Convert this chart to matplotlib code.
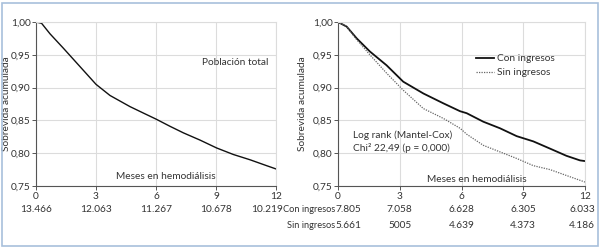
"""
Kaplan-Meier style survival curves: total population and by income group.
"""

import matplotlib.pyplot as plt
from matplotlib.patches import Rectangle
from matplotlib.transforms import blended_transform_factory

plt.rcParams["font.family"] = ["Lato", "DejaVu Sans"]
plt.rcParams["font.size"] = 7.3

TEXT = "#333333"
GRID = "#dcdcdc"
SPINE = "#555555"

# total population
months_total = [0, 0.28, 0.7, 1.37, 2.2, 3.0, 3.7, 4.7, 5.45, 6.0, 6.7, 7.37, 8.2, 9.03, 9.87, 10.7, 11.53, 12]
surv_total = [1.0, 0.998, 0.982, 0.960, 0.932, 0.905, 0.888, 0.871, 0.860, 0.852, 0.841, 0.831, 0.820, 0.808, 0.798,
              0.790, 0.781, 0.776]
at_risk_total = ["13.466", "12.063", "11.267", "10.678", "10.219"]

# by income
months_con = [0, 0.42, 0.91, 1.55, 2.36, 3.17, 4.15, 5.12, 5.93, 6.25, 7.06, 7.87, 8.68, 9.49, 10.3, 11.1, 11.76, 12]
surv_con = [1.0, 0.993, 0.975, 0.955, 0.934, 0.909, 0.891, 0.876, 0.864, 0.861, 0.848, 0.838, 0.826, 0.818, 0.807,
            0.796, 0.789, 0.788]
months_sin = [0, 0.42, 0.91, 1.55, 2.36, 3.17, 4.15, 5.12, 5.93, 6.25, 7.06, 7.87, 8.68, 9.49, 10.3, 11.1, 12]
surv_sin = [1.0, 0.993, 0.973, 0.950, 0.922, 0.896, 0.868, 0.853, 0.838, 0.829, 0.812, 0.802, 0.792, 0.781, 0.775,
            0.766, 0.756]
at_risk_con = ["7.805", "7.058", "6.628", "6.305", "6.033"]
at_risk_sin = ["5.661", "5005", "4.639", "4.373", "4.186"]

x_ticks = [0, 3, 6, 9, 12]
y_ticks = [0.75, 0.80, 0.85, 0.90, 0.95, 1.00]


def style_axes(ax):
    ax.set_xlim(0, 12)
    ax.set_ylim(0.75, 1.0)
    ax.set_xticks(x_ticks)
    ax.set_yticks(y_ticks)
    ax.set_yticklabels([f"{v:.2f}".replace(".", ",") for v in y_ticks])
    ax.grid(True, color=GRID, linewidth=0.8)
    ax.set_axisbelow(True)
    for side in ("top", "right"):
        ax.spines[side].set_color(GRID)
        ax.spines[side].set_linewidth(0.8)
    for side in ("left", "bottom"):
        ax.spines[side].set_color(SPINE)
        ax.spines[side].set_linewidth(0.8)
    ax.tick_params(colors=SPINE, labelcolor=TEXT, length=3, width=0.7, pad=1)
    ax.set_ylabel("Sobrevida acumulada", color=TEXT, labelpad=1)


fig = plt.figure(figsize=(6, 2.48), dpi=100)
fig.patches.append(Rectangle((2 / 600, 2 / 248), 596 / 600, 243 / 248, transform=fig.transFigure,
                             fill=False, edgecolor="#a8c0dc", linewidth=1.2))

ax1 = fig.add_axes([36 / 600, 62 / 248, 240 / 600, 164 / 248])
ax2 = fig.add_axes([338 / 600, 62 / 248, 247 / 600, 164 / 248])

style_axes(ax1)
ax1.plot(months_total, surv_total, color="#111111", linewidth=1.0)
ax1.text(0.83, 0.755, "Población total", transform=ax1.transAxes, ha="center", va="center", color=TEXT)
ax1.text(0.54, 0.06, "Meses en hemodiálisis", transform=ax1.transAxes, ha="center", va="center", color=TEXT)
ax1.yaxis.set_label_coords(-0.105, 0.5)

tr1 = blended_transform_factory(ax1.transData, ax1.transAxes)
for x, lab in zip(x_ticks, at_risk_total):
    ax1.text(x if x < 12 else 11.55, -0.145, lab, transform=tr1, ha="center", va="center", color=TEXT)

style_axes(ax2)
ax2.plot(months_con, surv_con, color="#111111", linewidth=1.3, label="Con ingresos")
ax2.plot(months_sin, surv_sin, color="#666666", linewidth=0.9, linestyle=(0, (1, 1)), label="Sin ingresos")
ax2.legend(loc="upper left", bbox_to_anchor=(0.52, 0.86), frameon=False, handlelength=1.8,
           handletextpad=0.3, labelspacing=0.5, labelcolor=TEXT, fontsize=7.3)
ax2.text(0.06, 0.31, "Log rank (Mantel-Cox)", transform=ax2.transAxes, ha="left", va="center", color=TEXT)
ax2.text(0.06, 0.23, "Chi² 22,49 (p = 0,000)", transform=ax2.transAxes, ha="left", va="center", color=TEXT)
ax2.text(0.56, 0.04, "Meses en hemodiálisis", transform=ax2.transAxes, ha="center", va="center", color=TEXT)
ax2.yaxis.set_label_coords(-0.125, 0.5)

tr2 = blended_transform_factory(ax2.transData, ax2.transAxes)
for row_y, name, values in [(-0.145, "Con ingresos", at_risk_con), (-0.238, "Sin ingresos", at_risk_sin)]:
    ax2.text(-0.12, row_y, name, transform=tr2, ha="right", va="center", color=TEXT, fontsize=6.7)
    for x, lab in zip(x_ticks, values):
        if x == 0:
            ax2.text(-0.1, row_y, lab, transform=tr2, ha="left", va="center", color=TEXT)
        else:
            ax2.text(x if x < 12 else 11.85, row_y, lab, transform=tr2, ha="center", va="center", color=TEXT)

fig.savefig("out.png", dpi=100)
